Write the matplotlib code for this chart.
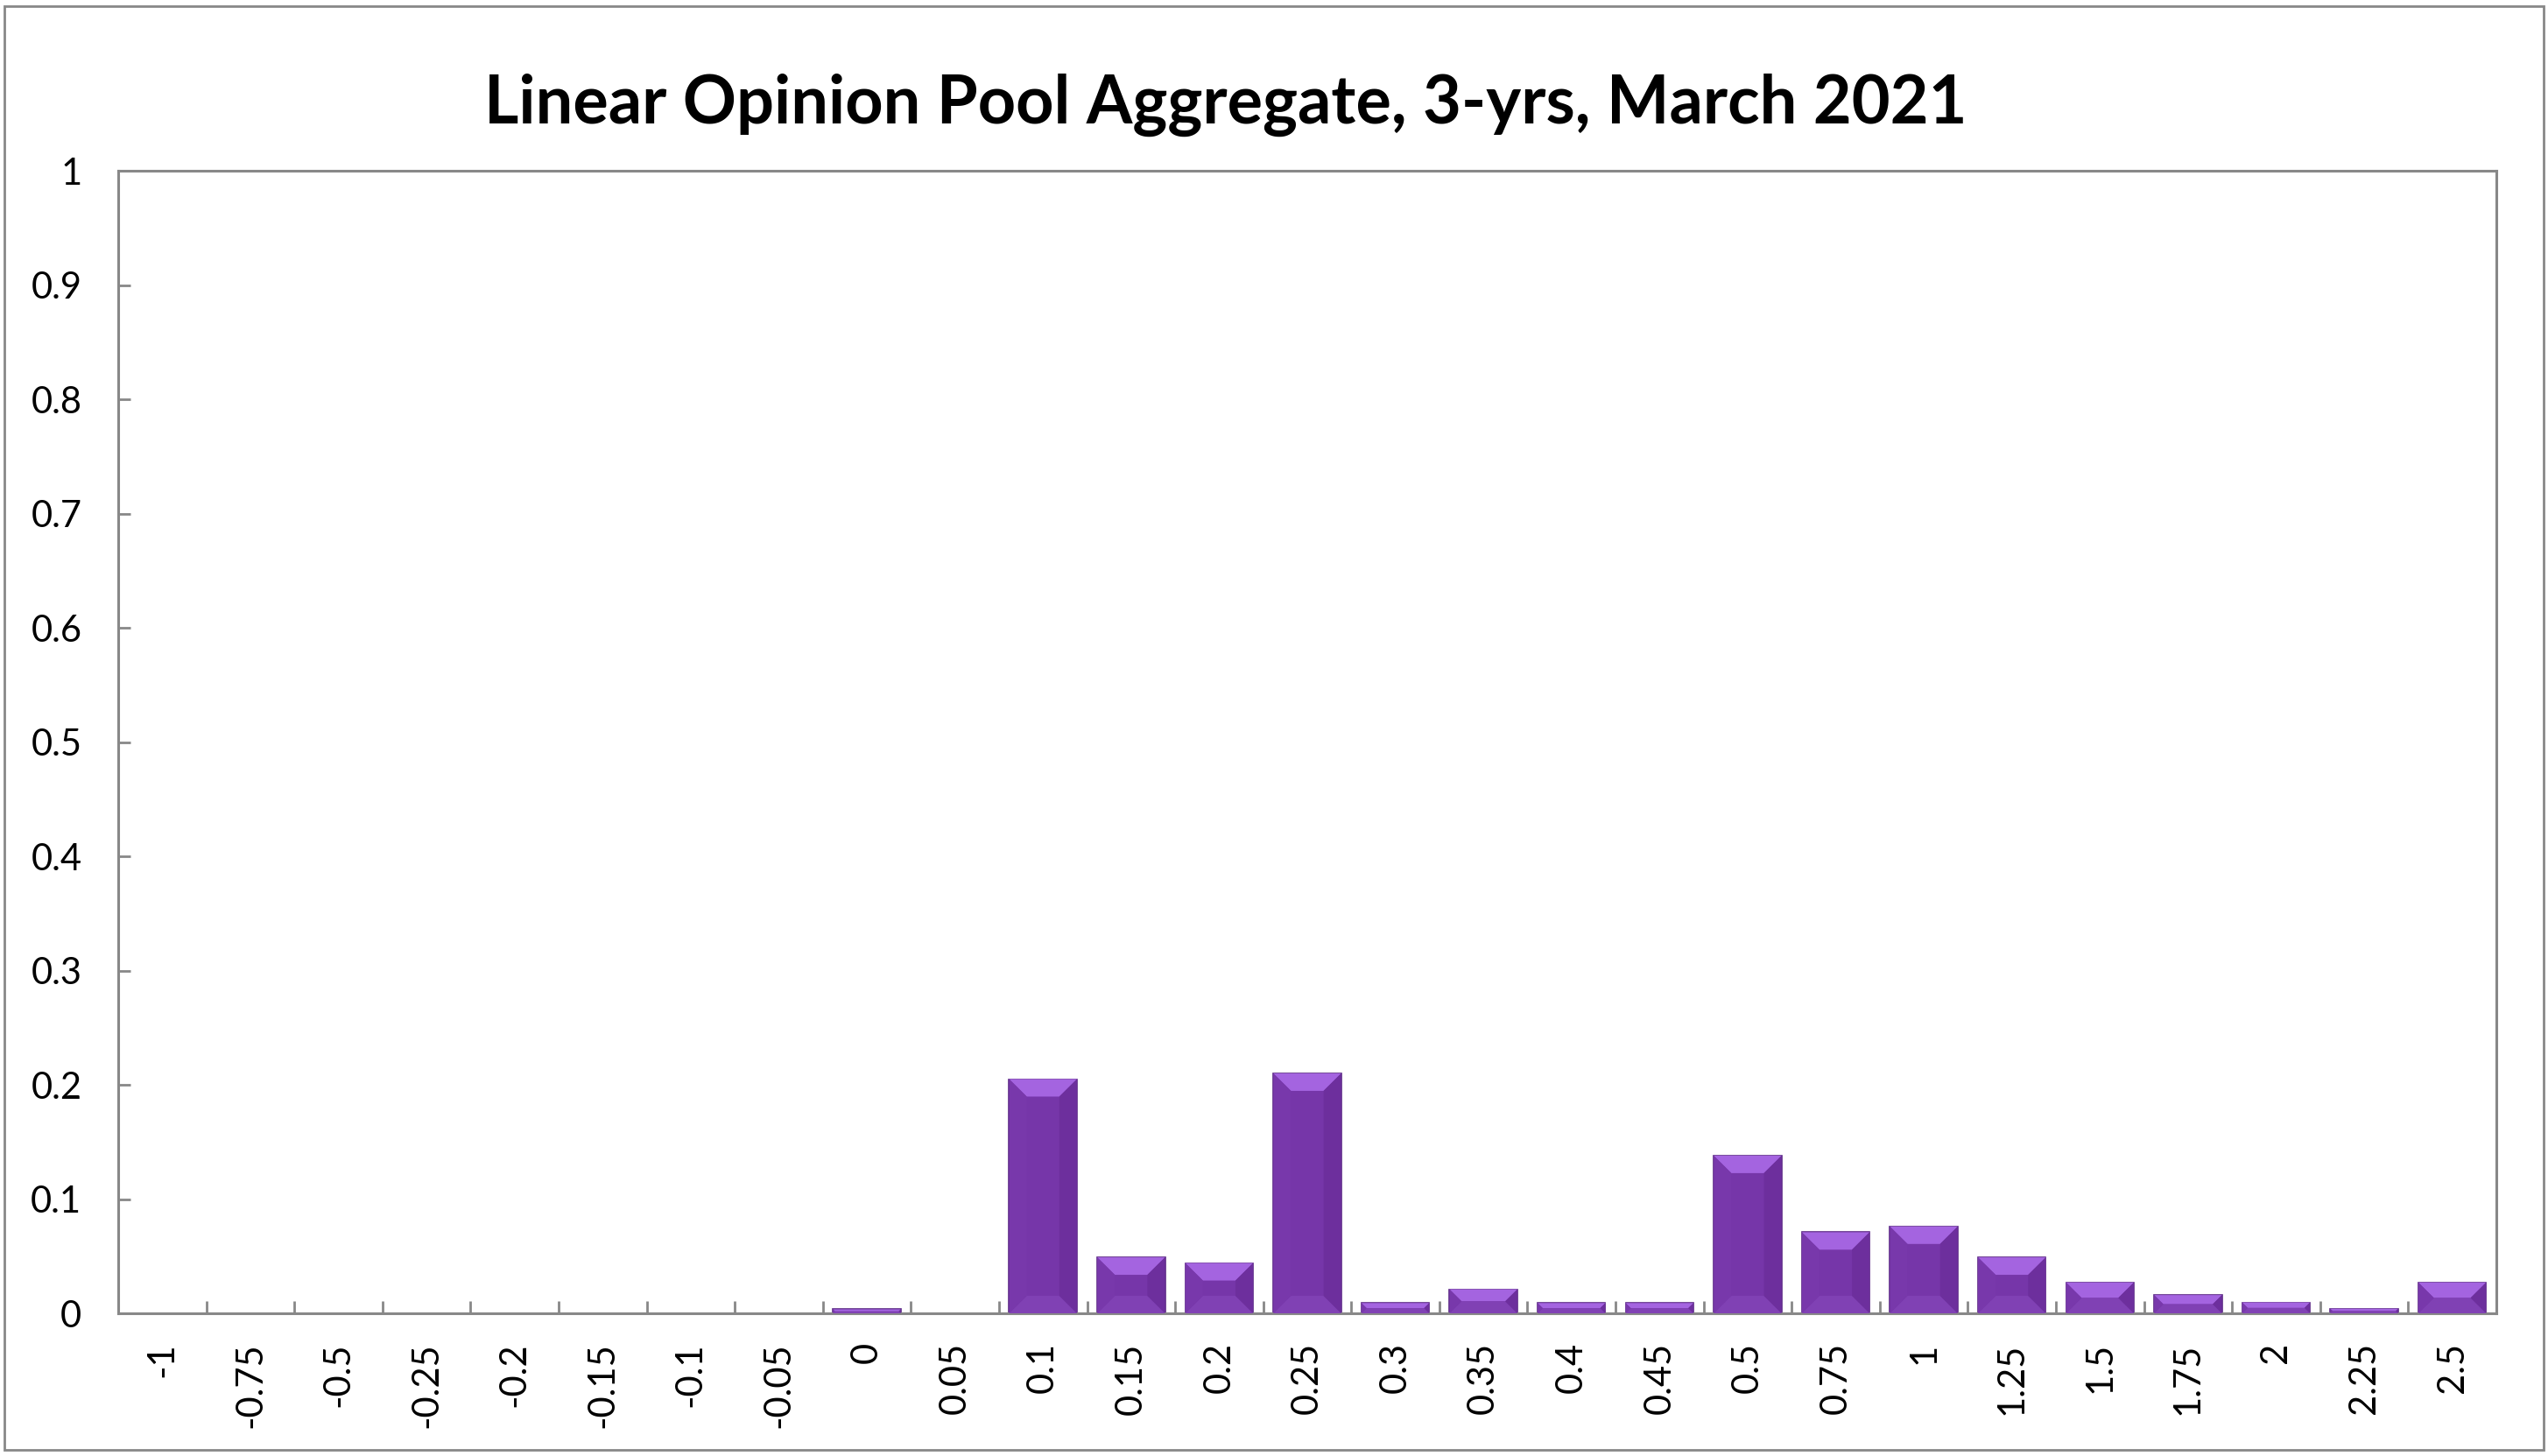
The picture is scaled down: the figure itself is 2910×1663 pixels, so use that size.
import matplotlib
matplotlib.use("Agg")
import matplotlib.pyplot as plt
from matplotlib.patches import Rectangle

# data
categories = ["-1", "-0.75", "-0.5", "-0.25", "-0.2", "-0.15", "-0.1", "-0.05",
              "0", "0.05", "0.1", "0.15", "0.2", "0.25", "0.3", "0.35", "0.4",
              "0.45", "0.5", "0.75", "1", "1.25", "1.5", "1.75", "2", "2.25", "2.5"]
values = [0, 0, 0, 0, 0, 0, 0, 0,
          0.0035, 0, 0.205, 0.049, 0.044, 0.21, 0.009, 0.021, 0.009,
          0.009, 0.138, 0.071, 0.076, 0.049, 0.027, 0.016, 0.0095, 0.004, 0.027]
yticks = [0, 0.1, 0.2, 0.3, 0.4, 0.5, 0.6, 0.7, 0.8, 0.9, 1]
ytick_labels = ["0", "0.1", "0.2", "0.3", "0.4", "0.5", "0.6", "0.7", "0.8", "0.9", "1"]
title = "Linear Opinion Pool Aggregate, 3-yrs, March 2021"

plt.rcParams['font.family'] = ['Lato', 'DejaVu Sans']

fig = plt.figure(figsize=(29.1, 16.63), dpi=100)
ax = fig.add_axes([0.0464, 0.098, 0.9333, 0.7847])

x = list(range(len(categories)))
width = 0.77
bars = ax.bar(x, values, width=width, color="#7636a9", edgecolor="#5c2a85",
              linewidth=1.2, zorder=2)

# bevel look: light top, slightly light bottom, a bit darker right side
bev_x, bev_y = 0.2, 0.0153
for xi, h in zip(x, values):
    if h <= 0:
        continue
    f = min(1.0, (h / 2) / bev_y)
    dx, dy = bev_x * f, bev_y * f
    l, r = xi - width / 2, xi + width / 2
    ax.fill([l, r, r - dx, l + dx], [h, h, h - dy, h - dy], color="#a464e0", lw=0, zorder=3)
    ax.fill([l, r, r - dx, l + dx], [0, 0, dy, dy], color="#8041b4", lw=0, zorder=3)
    ax.fill([r, r, r - dx, r - dx], [0, h, h - dy, dy], color="#6d2f9d", lw=0, zorder=3)
    ax.fill([l, l, l + dx, l + dx], [0, h, h - dy, dy], color="#7838ab", lw=0, zorder=3)

ax.set_xlim(-0.5, len(categories) - 0.5)
ax.set_ylim(0, 1)
ax.set_yticks(yticks)
ax.set_yticklabels(ytick_labels, fontsize=30)
ax.set_xticks(x)
ax.set_xticklabels(categories, rotation=90, fontsize=30)
ax.set_xticks([i + 0.5 for i in x[:-1]], minor=True)

ax.tick_params(axis="x", which="major", length=0, pad=24)
ax.tick_params(axis="x", which="minor", direction="in", length=10, width=2, color="#888888")
ax.tick_params(axis="y", direction="in", length=10, width=2, color="#888888", pad=30)

for s in ax.spines.values():
    s.set_color("#888888")
    s.set_linewidth(2.2)

fig.text(0.481, 0.928, title, ha="center", va="center", fontsize=54.5, fontweight="bold")

fig.patches.append(Rectangle((0.0017, 0.004), 0.9966, 0.992, transform=fig.transFigure,
                             fill=False, edgecolor="#888888", linewidth=2))

fig.savefig("out.png", dpi=100, facecolor="white")
